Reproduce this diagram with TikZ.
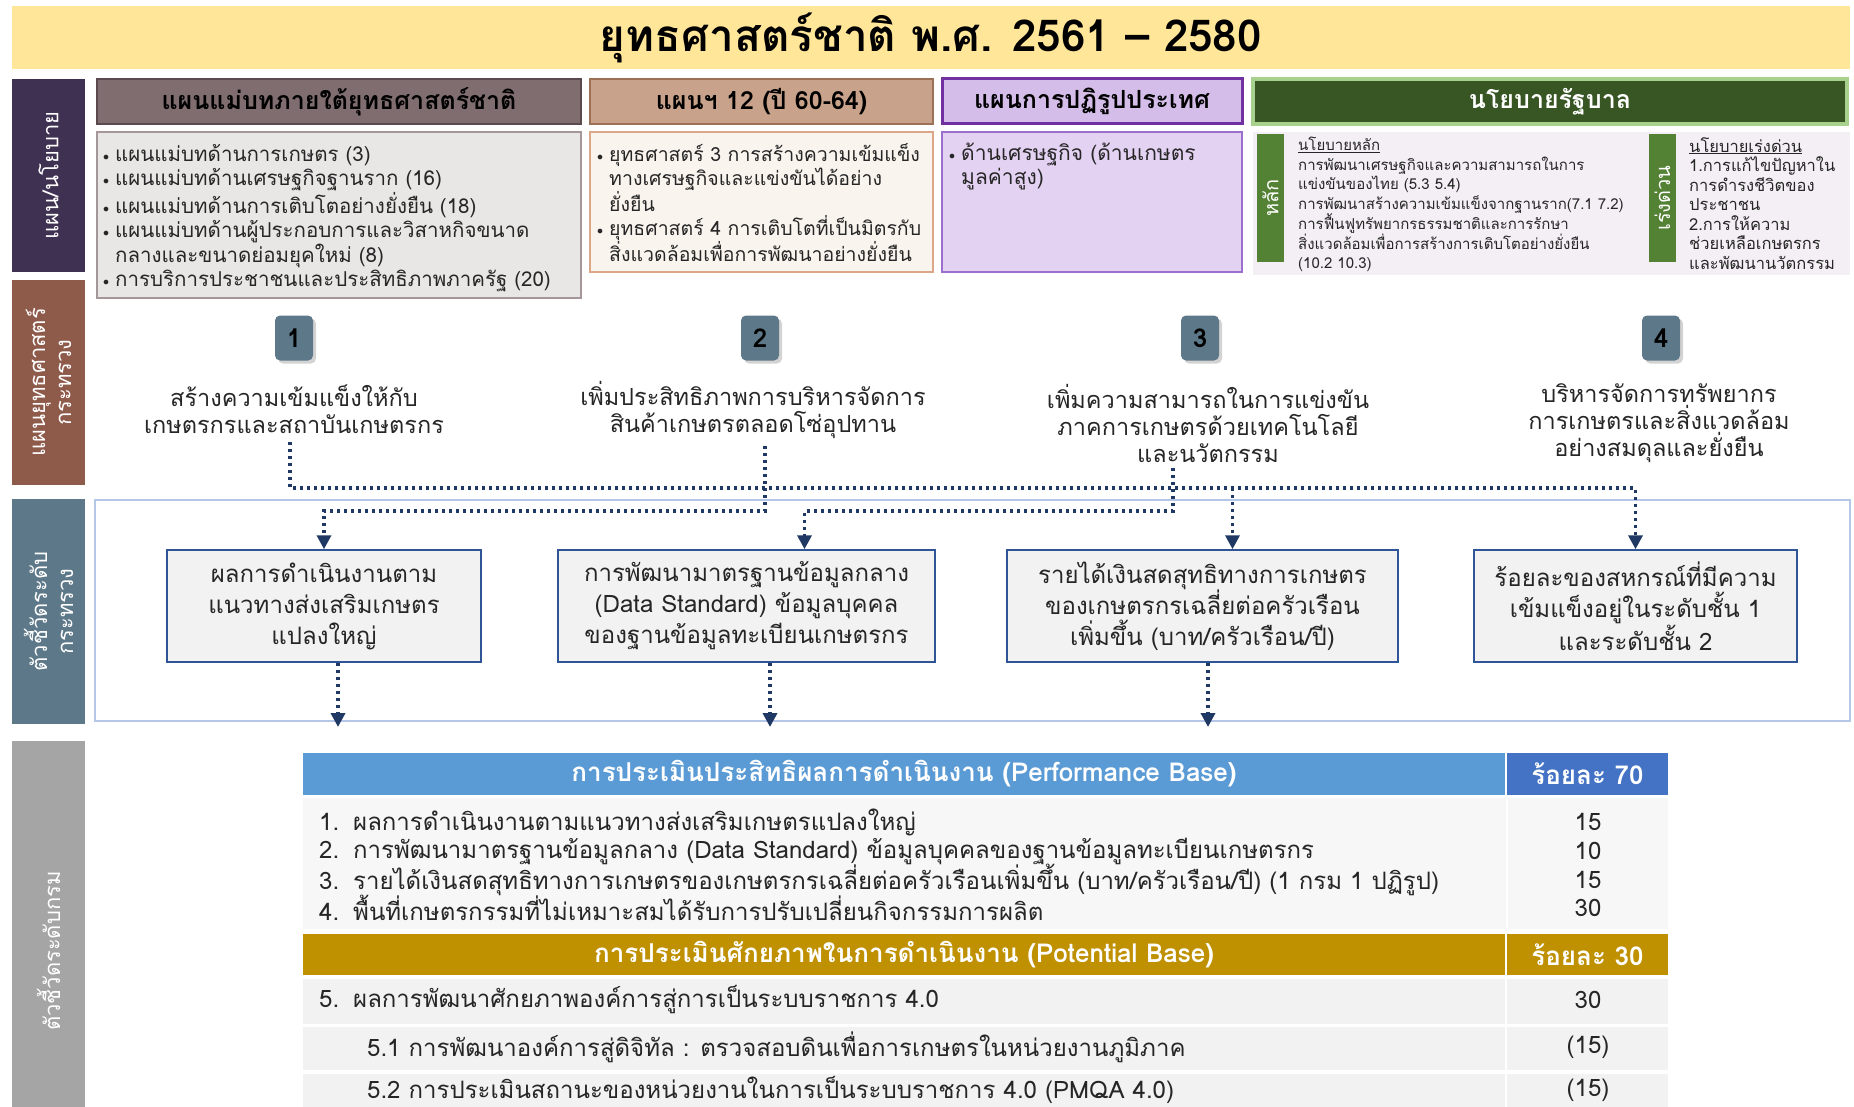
\documentclass[tikz,border=0pt]{standalone}
\usepackage{fontspec}
\setmainfont{Loma}[Script=Thai]
\usepackage{tikz}
\usetikzlibrary{positioning,arrows.meta,shadows}

\definecolor{titlefill}{HTML}{FFE699}
\definecolor{planside}{HTML}{3F3151}
\definecolor{stratside}{HTML}{8E5B4B}
\definecolor{kpiside}{HTML}{5D7888}
\definecolor{deptside}{HTML}{A5A5A5}
\definecolor{navy}{HTML}{1F3864}
\definecolor{inkgray}{HTML}{262626}
\definecolor{tblue}{HTML}{5B9BD5}
\definecolor{tblued}{HTML}{4472C4}
\definecolor{tgold}{HTML}{BF9000}
\definecolor{mauvehd}{HTML}{7F6D70}
\definecolor{mauveln}{HTML}{5A4A4D}
\definecolor{mauvebg}{HTML}{E9E6E6}
\definecolor{mauvebd}{HTML}{A59799}
\definecolor{tanhd}{HTML}{C8A28A}
\definecolor{tanln}{HTML}{9D7155}
\definecolor{tanbg}{HTML}{FAF4EF}
\definecolor{tanbd}{HTML}{DCA789}
\definecolor{lilachd}{HTML}{D4BDE8}
\definecolor{lilacln}{HTML}{7030A0}
\definecolor{lilacbg}{HTML}{E4D2F2}
\definecolor{lilacbd}{HTML}{9B6FCC}
\definecolor{govhd}{HTML}{375623}
\definecolor{govln}{HTML}{A9D18E}
\definecolor{govbg}{HTML}{F3EFF4}
\definecolor{govtab}{HTML}{548235}
\definecolor{framebl}{HTML}{B4C7E7}
\definecolor{rowbg}{HTML}{F7F7F7}
\definecolor{kpiln}{HTML}{2F5597}

\newcommand\fsz[2]{\fontsize{#1}{#2}\selectfont}
\newcommand\bul{\makebox[12pt][l]{\raisebox{1pt}{\fsz{12}{12}$\bullet$}}}

\tikzset{
  sidebox/.style={fill=#1, text=white, rotate=90, minimum height=73pt,
    align=center, inner sep=0pt, font=\fsz{22}{26}},
  hdrbox/.style={minimum height=45pt, inner sep=0pt, font=\fsz{25}{28}\bfseries},
  listtxt/.style={anchor=north west, align=left, inner sep=0pt, text=inkgray},
  badge/.style={fill=kpiside, rounded corners=5pt, minimum width=38pt,
    minimum height=45pt, inner sep=0pt, font=\fsz{26}{28}\bfseries,
    drop shadow={shadow xshift=3pt, shadow yshift=-3pt, opacity=0.35}},
  stratxt/.style={align=center, inner sep=0pt, text=inkgray, font=\fsz{23.5}{27}},
  kpibox/.style={draw=kpiln, line width=1.5pt, fill=black!5,
    minimum height=112pt, align=center, inner sep=0pt, text=inkgray,
    font=\fsz{24}{31}},
  flow/.style={draw=navy, line width=3.5pt, dash pattern=on 3pt off 4pt,
    -{Triangle[length=14pt,width=14pt]}},
  trow/.style={inner sep=0pt, text=white, font=\fsz{26}{28}\bfseries},
  tline/.style={anchor=west, inner sep=0pt, text=inkgray, font=\fsz{24}{26}},
}

\begin{document}
\begin{tikzpicture}[x=1pt, y=-1pt]
  \useasboundingbox (0,0) rectangle (1854,1107);
  \clip (0,0) rectangle (1854,1107);

  % title band
  \node[fill=titlefill, minimum width=1838pt, minimum height=63pt, inner sep=0pt,
    font=\fsz{44}{46}\bfseries] (title) at (931,37.5) {ยุทธศาสตร์ชาติ พ.ศ. 2561 – 2580};

  % row labels on the left
  \node[sidebox=planside, minimum width=193pt] (lplan) at (48.5,175.5) {แผน/นโยบาย};
  \node[sidebox=stratside, minimum width=205pt] (lstrat) at (48.5,382.5) {แผนยุทธศาสตร์\\กระทรวง};
  \node[sidebox=kpiside, minimum width=225pt] (lkpi) at (48.5,611.5) {ตัวชี้วัดระดับ\\กระทรวง};
  \node[sidebox=deptside, minimum width=420pt] (ldept) at (48.5,951) {ตัวชี้วัดระดับกรม};

  % plan headers
  \node[hdrbox, fill=mauvehd, draw=mauveln, line width=2pt, minimum width=484pt] (hA) at (339,101.5) {แผนแม่บทภายใต้ยุทธศาสตร์ชาติ};
  \node[hdrbox, fill=tanhd, draw=tanln, line width=2pt, minimum width=343pt] (hB) at (761.5,101.5) {แผนฯ 12 (ปี 60-64)};
  \node[hdrbox, fill=lilachd, draw=lilacln, line width=3pt, minimum width=300pt] (hC) at (1092,101.5) {แผนการปฏิรูปประเทศ};
  \node[hdrbox, fill=govhd, draw=govln, line width=4pt, text=white, minimum width=594pt] (hD) at (1550,101.5) {นโยบายรัฐบาล};

  % plan bodies
  \node[fill=mauvebg, draw=mauvebd, line width=1.5pt, minimum width=484pt, minimum height=166pt] (bA) at (339,215) {};
  \node[fill=tanbg, draw=tanbd, line width=1.5pt, minimum width=343pt, minimum height=140pt] (bB) at (761.5,202) {};
  \node[fill=lilacbg, draw=lilacbd, line width=1.5pt, minimum width=300pt, minimum height=140pt] (bC) at (1092,202) {};
  \node[fill=govbg, minimum width=597pt, minimum height=143pt] (bD) at (1551.5,203.5) {};

  \node[listtxt, font=\fsz{20.5}{24.5}] (listA) at (103,144)
    {\bul แผนแม่บทด้านการเกษตร (3)\\
     \bul แผนแม่บทด้านเศรษฐกิจฐานราก (16)\\
     \bul แผนแม่บทด้านการเติบโตอย่างยั่งยืน (18)\\
     \bul แผนแม่บทด้านผู้ประกอบการและวิสาหกิจขนาด\\
     \hspace*{12pt}กลางและขนาดย่อมยุคใหม่ (8)\\
     \bul การบริการประชาชนและประสิทธิภาพภาครัฐ (20)};
  \node[listtxt, font=\fsz{19.5}{24}] (listB) at (597,143)
    {\bul ยุทธศาสตร์ 3 การสร้างความเข้มแข็ง\\
     \hspace*{12pt}ทางเศรษฐกิจและแข่งขันได้อย่าง\\
     \hspace*{12pt}ยั่งยืน\\
     \bul ยุทธศาสตร์ 4 การเติบโตที่เป็นมิตรกับ\\
     \hspace*{12pt}สิ่งแวดล้อมเพื่อการพัฒนาอย่างยั่งยืน};
  \node[listtxt, font=\fsz{21}{24}] (listC) at (949,143)
    {\bul ด้านเศรษฐกิจ (ด้านเกษตร\\
     \hspace*{12pt}มูลค่าสูง)};

  % government policy tabs
  \node[fill=govtab, text=white, rotate=90, minimum width=128pt, minimum height=27pt,
    inner sep=0pt, font=\fsz{20}{22}] (tabmain) at (1270.5,198) {หลัก};
  \node[fill=govtab, text=white, rotate=90, minimum width=128pt, minimum height=27pt,
    inner sep=0pt, font=\fsz{20}{22}] (tabfast) at (1662.5,198) {เร่งด่วน};
  \node[listtxt, font=\fsz{15}{19.5}] (polmain) at (1298,137)
    {\underline{นโยบายหลัก}\\
     การพัฒนาเศรษฐกิจและความสามารถในการ\\
     แข่งขันของไทย (5.3 5.4)\\
     การพัฒนาสร้างความเข้มแข็งจากฐานราก(7.1 7.2)\\
     การฟื้นฟูทรัพยากรธรรมชาติและการรักษา\\
     สิ่งแวดล้อมเพื่อการสร้างการเติบโตอย่างยั่งยืน\\
     (10.2 10.3)};
  \node[listtxt, font=\fsz{16.5}{19.5}] (polfast) at (1689,137)
    {\underline{นโยบายเร่งด่วน}\\
     1.การแก้ไขปัญหาใน\\
     การดำรงชีวิตของ\\
     ประชาชน\\
     2.การให้ความ\\
     ช่วยเหลือเกษตรกร\\
     และพัฒนานวัตกรรม};

  % ministry strategies
  \foreach \n/\x in {1/294,2/760,3/1200,4/1661}
    \node[badge] (b\n) at (\x,338) {\n};
  \node[stratxt] (s1) at (294,409.5) {สร้างความเข้มแข็งให้กับ\\เกษตรกรและสถาบันเกษตรกร};
  \node[stratxt] (s2) at (753,409.5) {เพิ่มประสิทธิภาพการบริหารจัดการ\\สินค้าเกษตรตลอดโซ่อุปทาน};
  \node[stratxt] (s3) at (1208,423) {เพิ่มความสามารถในการแข่งขัน\\ภาคการเกษตรด้วยเทคโนโลยี\\และนวัตกรรม};
  \node[stratxt] (s4) at (1659,423) {บริหารจัดการทรัพยากร\\การเกษตรและสิ่งแวดล้อม\\อย่างสมดุลและยั่งยืน};

  % ministry indicators
  \draw[draw=framebl, line width=2.5pt] (95,500) rectangle (1850,721);
  \node[kpibox, minimum width=314pt] (k1) at (324,606) {ผลการดำเนินงานตาม\\แนวทางส่งเสริมเกษตร\\แปลงใหญ่};
  \node[kpibox, minimum width=377pt] (k2) at (746.5,606) {การพัฒนามาตรฐานข้อมูลกลาง\\(Data Standard) ข้อมูลบุคคล\\ของฐานข้อมูลทะเบียนเกษตรกร};
  \node[kpibox, minimum width=391pt] (k3) at (1202.5,606) {รายได้เงินสดสุทธิทางการเกษตร\\ของเกษตรกรเฉลี่ยต่อครัวเรือน\\เพิ่มขึ้น (บาท/ครัวเรือน/ปี)};
  \node[kpibox, minimum width=323pt] (k4) at (1635.5,606) {ร้อยละของสหกรณ์ที่มีความ\\เข้มแข็งอยู่ในระดับชั้น 1\\และระดับชั้น 2};

  \coordinate (busA) at (0,488);
  \coordinate (busB) at (0,511);
  \coordinate (tabtop) at (0,727);
  \draw[flow] ([xshift=-4pt,yshift=-8pt]s1.south) |- (k4.north |- busA) -- (k4.north);
  \draw[flow] ([xshift=12pt,yshift=-8pt]s2.south) |- (k1.north |- busB) -- (k1.north);
  \draw[flow] ([xshift=-35pt,yshift=-6pt]s3.south) |- ([xshift=58pt]k2.north |- busB) -- ([xshift=58pt]k2.north);
  \draw[flow] ([xshift=30pt]k3.north |- busA) -- ([xshift=30pt]k3.north);
  \foreach \k/\dx in {k1/14,k2/23.5,k3/5.5}
    \draw[flow] ([xshift=\dx pt]\k.south) -- ([xshift=\dx pt]\k.south |- tabtop);

  % department indicators table
  \node[trow, fill=tblue, minimum width=1202pt, minimum height=42pt] (perf) at (904,774) {การประเมินประสิทธิผลการดำเนินงาน (Performance Base)};
  \node[trow, fill=tblued, minimum width=161pt, minimum height=42pt] (perfw) at (1587.5,774) {ร้อยละ 70};
  \node[fill=rowbg, minimum width=1365pt, minimum height=131pt, inner sep=0pt] (perfbody) at (985.5,863.5) {};
  \node[trow, fill=tgold, minimum width=1202pt, minimum height=41pt] (pot) at (904,954.5) {การประเมินศักยภาพในการดำเนินงาน (Potential Base)};
  \node[trow, fill=tgold, minimum width=161pt, minimum height=41pt] (potw) at (1587.5,954.5) {ร้อยละ 30};
  \foreach \r/\y/\h in {r5/1001.5/45, r51/1048.5/43, r52/1095/43}{
    \node[fill=black!5, minimum width=1202pt, minimum height=\h pt, inner sep=0pt] (\r) at (904,\y) {};
    \node[fill=black!5, minimum width=161pt, minimum height=\h pt, inner sep=0pt] (\r w) at (1587.5,\y) {};
  }
  \draw[white, line width=2pt] (perfbody.north -| perfw.west) -- (perfbody.south -| perfw.west);

  \foreach \i/\y/\t/\v in {
      1/822/{ผลการดำเนินงานตามแนวทางส่งเสริมเกษตรแปลงใหญ่}/15,
      2/851/{การพัฒนามาตรฐานข้อมูลกลาง (Data Standard) ข้อมูลบุคคลของฐานข้อมูลทะเบียนเกษตรกร}/10,
      3/880/{รายได้เงินสดสุทธิทางการเกษตรของเกษตรกรเฉลี่ยต่อครัวเรือนเพิ่มขึ้น (บาท/ครัวเรือน/ปี) (1 กรม 1 ปฏิรูป)}/15,
      4/908/{พื้นที่เกษตรกรรมที่ไม่เหมาะสมได้รับการปรับเปลี่ยนกิจกรรมการผลิต}/30}{
    \node[tline] (t\i) at (319,\y) {\makebox[34pt][l]{\i.}\t};
    \node[tline, anchor=center] (v\i) at (1588,\y) {\v};
  }
  \node[tline] (t5) at (319,1000) {\makebox[34pt][l]{5.}ผลการพัฒนาศักยภาพองค์การสู่การเป็นระบบราชการ 4.0};
  \node[tline, anchor=center] (v5) at (1588,1000) {30};
  \node[tline] (t51) at (367,1047) {5.1 การพัฒนาองค์การสู่ดิจิทัล : ตรวจสอบดินเพื่อการเกษตรในหน่วยงานภูมิภาค};
  \node[tline, anchor=center] (v51) at (1588,1047) {(15)};
  \node[tline] (t52) at (367,1090) {5.2 การประเมินสถานะของหน่วยงานในการเป็นระบบราชการ  4.0 (PMQA 4.0)};
  \node[tline, anchor=center] (v52) at (1588,1090) {(15)};
\end{tikzpicture}
\end{document}
